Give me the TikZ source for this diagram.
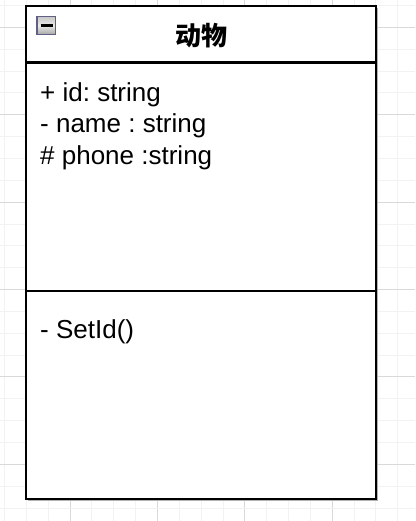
\documentclass[tikz,border=0pt]{standalone}
\usepackage{fontspec}
\setmainfont{Liberation Sans}
\newfontfamily\cjk{Noto Sans CJK SC}
\frenchspacing
\begin{document}
\begin{tikzpicture}[x=1pt,y=-1pt,
  minorline/.style={color=black!5, line width=0.9pt},
  majorline/.style={color=black!15, line width=0.9pt},
  member/.style={anchor=base west, inner sep=0pt, font=\fontsize{26}{31}\selectfont}]
\useasboundingbox (0,0) rectangle (415,521);
\fill[white] (0,0) rectangle (415,521);
\pgfmathsetmacro{\g}{21.85}
% grid
\foreach \k in {-1,...,17} {
  \pgfmathsetmacro{\gx}{26.3+\k*\g}
  \pgfmathtruncatemacro{\r}{mod(\k+4,4)}
  \ifnum\r=2 \draw[majorline] (\gx,0)--(\gx,521); \else \draw[minorline] (\gx,0)--(\gx,521); \fi
}
\foreach \k in {0,...,23} {
  \pgfmathsetmacro{\gy}{5.45+\k*\g}
  \pgfmathtruncatemacro{\r}{mod(\k,4)}
  \ifnum\r=1 \draw[majorline] (0,\gy)--(415,\gy); \else \draw[minorline] (0,\gy)--(415,\gy); \fi
}
\pgfmathsetmacro{\xl}{26.3}
\pgfmathsetmacro{\xr}{376}
% class box
\fill[black!30] (\xl+2,7.7) rectangle (\xr+2,501);
\draw[fill=white, line width=2.2pt] (\xl,5.7) rectangle (\xr,499);
\draw[line width=2.2pt] (\xl,62.6)--(\xr,62.6);
\draw[line width=2.2pt] (\xl,290.8)--(\xr,290.8);
\shade[top color=black!22, bottom color=black!35, middle color=black!8] (37,16.5) rectangle (55.5,34.5);
\draw[color=black!40!blue!25!gray, line width=1.4pt] (37,16.5) rectangle (55.5,34.5);
\draw[line width=2.6pt] (40.5,25.5)--(52.5,25.5);
\node[anchor=base, inner sep=0pt, font=\cjk\bfseries\fontsize{26}{31}\selectfont] (title) at (201,46) {动物};
\node[member] (attrid) at (40,101.5) {+ id: string};
\node[member] (attrname) at (40,133) {- name : string};
\node[member] (attrphone) at (40,164.5) {\# phone :string};
\node[member] (opsetid) at (40,338) {- SetId()};
\end{tikzpicture}
\end{document}
